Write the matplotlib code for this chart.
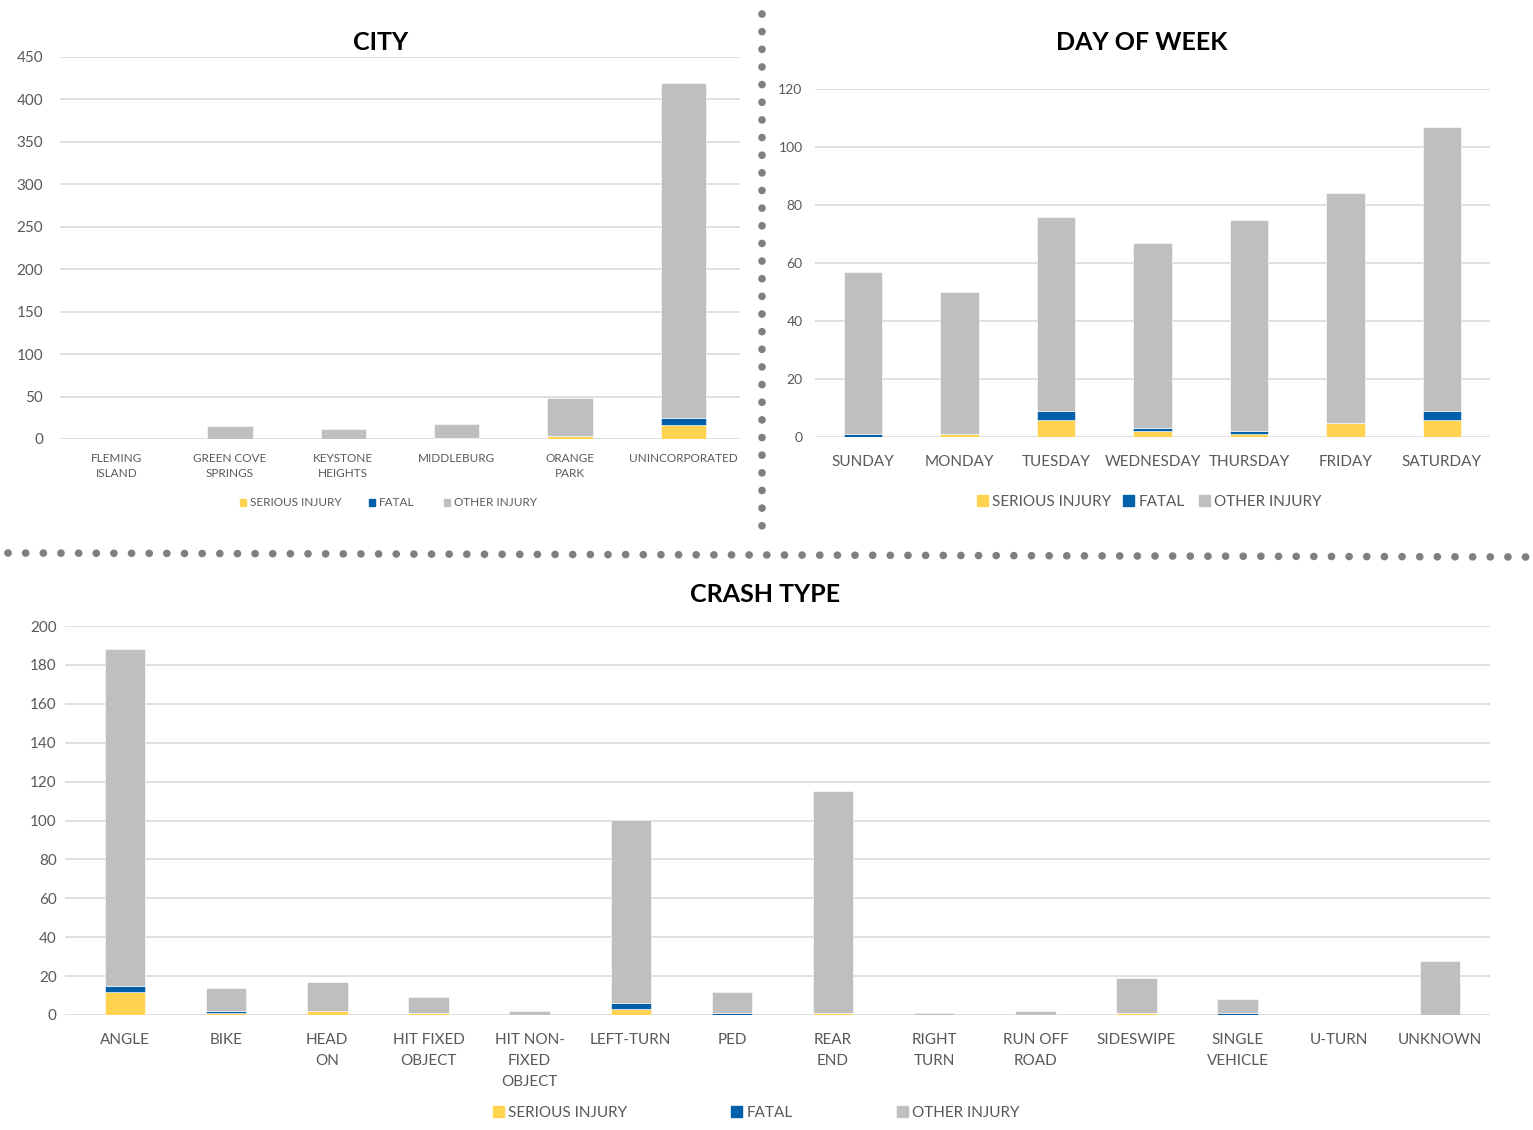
import matplotlib.pyplot as plt
from matplotlib.lines import Line2D
from matplotlib.patches import Patch
import numpy as np

plt.rcParams['font.family'] = ['Lato', 'DejaVu Sans']

# data
city_labels = ["FLEMING\nISLAND", "GREEN COVE\nSPRINGS", "KEYSTONE\nHEIGHTS", "MIDDLEBURG",
               "ORANGE\nPARK", "UNINCORPORATED"]
city_serious = [0, 0, 0, 1, 4, 16]
city_fatal = [0, 0, 0, 0, 0, 9]
city_other = [0, 15, 12, 17, 44, 394]

day_labels = ["SUNDAY", "MONDAY", "TUESDAY", "WEDNESDAY", "THURSDAY", "FRIDAY", "SATURDAY"]
day_serious = [0, 1, 6, 2, 1, 5, 6]
day_fatal = [1, 0, 3, 1, 1, 0, 3]
day_other = [56, 49, 67, 64, 73, 79, 98]

crash_labels = ["ANGLE", "BIKE", "HEAD\nON", "HIT FIXED\nOBJECT", "HIT NON-\nFIXED\nOBJECT",
                "LEFT-TURN", "PED", "REAR\nEND", "RIGHT\nTURN", "RUN OFF\nROAD", "SIDESWIPE",
                "SINGLE\nVEHICLE", "U-TURN", "UNKNOWN"]
crash_serious = [12, 1, 2, 1, 0, 3, 0, 1, 0, 0, 1, 0, 0, 0]
crash_fatal = [3, 1, 0, 0, 0, 3, 1, 0, 0, 0, 0, 1, 0, 0]
crash_other = [173, 12, 15, 8, 2, 94, 11, 114, 1, 2, 18, 7, 0, 28]

YELLOW = "#FFD24F"
BLUE = "#0061AA"
GREY = "#BFBFBF"
TXT = "#595959"
W, H = 1533, 1130

fig = plt.figure(figsize=(15.33, 11.3), dpi=100)


def add_ax(left, top, right, bottom):
    return fig.add_axes([left / W, 1 - bottom / H, (right - left) / W, (bottom - top) / H])


def stacked(ax, labels, serious, fatal, other, ymax, step, xsize, ysize, ypad, xpad, lsp):
    x = np.arange(len(labels))
    s = np.array(serious)
    f = np.array(fatal)
    o = np.array(other)
    ax.bar(x, s, width=0.4, color=YELLOW, edgecolor="white", linewidth=0.4, zorder=3)
    ax.bar(x, f, width=0.4, bottom=s, color=BLUE, edgecolor="white", linewidth=0.4, zorder=3)
    ax.bar(x, o, width=0.4, bottom=s + f, color=GREY, edgecolor="white", linewidth=0.4, zorder=3)
    ax.set_xlim(-0.5, len(labels) - 0.5)
    ax.set_ylim(0, ymax)
    ax.set_yticks(np.arange(0, ymax + 1, step))
    ax.set_xticks(x)
    ax.set_xticklabels(labels, fontsize=xsize, color=TXT, linespacing=lsp)
    ax.tick_params(axis="y", labelsize=ysize, labelcolor=TXT, length=0, pad=ypad)
    ax.tick_params(axis="x", length=0, pad=xpad)
    ax.grid(axis="y", color="#D9D9D9", linewidth=1.2, zorder=0)
    for sp in ax.spines.values():
        sp.set_visible(False)


def legend_at(xs, y, size, hl):
    handles = [Patch(color=YELLOW), Patch(color=BLUE), Patch(color=GREY)]
    names = ["SERIOUS INJURY", "FATAL", "OTHER INJURY"]
    for h, n, xp in zip(handles, names, xs):
        fig.legend([h], [n], loc="center left", bbox_to_anchor=(xp / W, 1 - y / H),
                   frameon=False, fontsize=size, labelcolor=TXT, handlelength=hl,
                   handleheight=hl, handletextpad=0.3, borderpad=0, borderaxespad=0)


ax1 = add_ax(60, 57, 740, 439)
stacked(ax1, city_labels, city_serious, city_fatal, city_other, 450, 50, 8.5, 11, 12, 10, 1.5)

ax2 = add_ax(815, 89, 1490, 437)
stacked(ax2, day_labels, day_serious, day_fatal, day_other, 120, 20, 11, 10, 9, 13, 1.5)

ax3 = add_ax(65, 626, 1490, 1015)
stacked(ax3, crash_labels, crash_serious, crash_fatal, crash_other, 200, 20, 11, 11, 6, 13, 1.65)
ax3.set_xlim(-0.593, 13.494)

fig.text(381 / W, 1 - 42 / H, "CITY", ha="center", va="center", fontsize=18, fontweight="bold")
fig.text(1142 / W, 1 - 42 / H, "DAY OF WEEK", ha="center", va="center", fontsize=18, fontweight="bold")
fig.text(765 / W, 1 - 595 / H, "CRASH TYPE", ha="center", va="center", fontsize=18, fontweight="bold")

legend_at([240, 369, 444], 503, 8.5, 0.55)
legend_at([977, 1123, 1199], 502, 11, 0.7)
legend_at([493, 731, 897], 1113, 11, 0.7)

# dotted separators
dots = dict(color="#7F7F7F", linestyle=(0, (0.01, 2.3)), linewidth=5.5,
            solid_capstyle="round", dash_capstyle="round")
fig.add_artist(Line2D([762 / W, 762 / W], [1 - 14 / H, 1 - 540 / H], **dots))
fig.add_artist(Line2D([8 / W, 1528 / W], [1 - 553 / H, 1 - 557 / H], **dots))

fig.savefig("out.png", dpi=100, facecolor="white")
